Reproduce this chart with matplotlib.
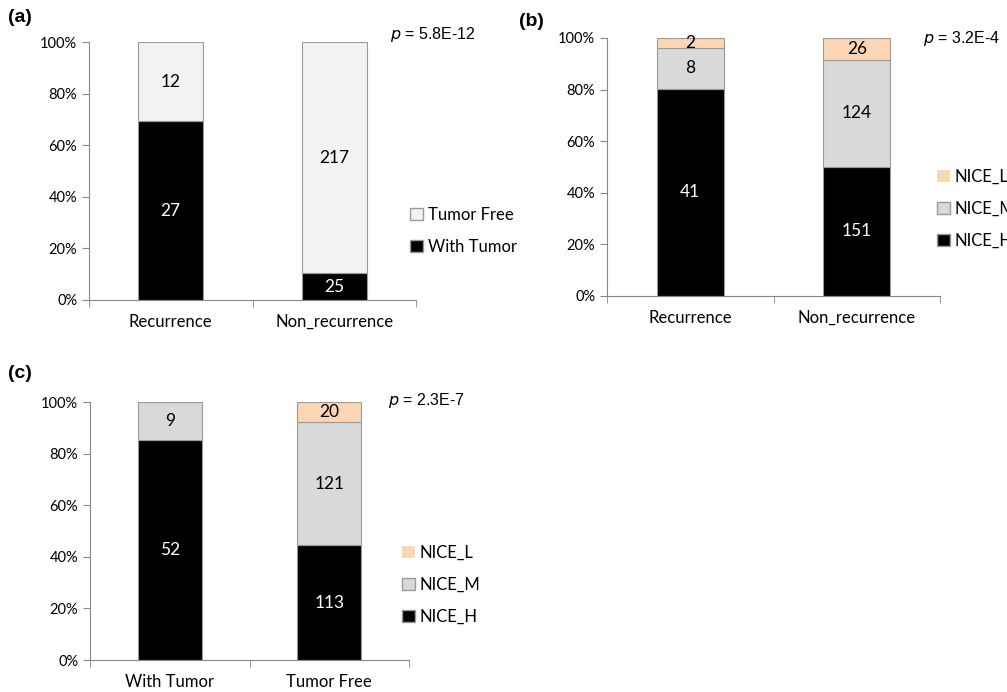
import numpy as np
import matplotlib.pyplot as plt
from matplotlib.patches import Patch
from matplotlib.ticker import PercentFormatter

plt.rcParams["font.family"] = ["Lato", "DejaVu Sans"]

# (a) recurrence vs tumor status
cats_a = ["Recurrence", "Non_recurrence"]
with_tumor = [27, 25]
tumor_free = [12, 217]

# (b) recurrence vs NICE group
cats_b = ["Recurrence", "Non_recurrence"]
nice_h_b = [41, 151]
nice_m_b = [8, 124]
nice_l_b = [2, 26]

# (c) tumor status vs NICE group
cats_c = ["With Tumor", "Tumor Free"]
nice_h_c = [52, 113]
nice_m_c = [9, 121]
nice_l_c = [0, 20]

p_texts = ["5.8E-12", "3.2E-4", "2.3E-7"]

BLACK = "#000000"
FREE = "#f2f2f2"
MID = "#d9d9d9"
LOW = "#fcd5b5"
EDGE = "#9a9a9a"

fig = plt.figure(figsize=(10.07, 6.92), dpi=100)


def stacked(ax, cats, series, colors, txtcolors):
    x = np.arange(len(cats))
    totals = np.sum(series, axis=0)
    bottom = np.zeros(len(cats))
    for vals, col, tc in zip(series, colors, txtcolors):
        vals = np.array(vals, dtype=float)
        frac = vals / totals
        ax.bar(x, frac, 0.4, bottom=bottom, color=col, edgecolor=EDGE, linewidth=0.8)
        for xi, v, f, b in zip(x, vals, frac, bottom):
            if v > 0:
                ax.text(xi, b + f / 2, f"{int(v)}", ha="center", va="center",
                        color=tc, fontsize=12.5)
        bottom += frac
    ax.set_xlim(-0.5, len(cats) - 0.5)
    ax.set_ylim(0, 1)
    ax.set_yticks(np.arange(0, 1.01, 0.2))
    ax.yaxis.set_major_formatter(PercentFormatter(1.0, decimals=0))
    ax.set_xticks(x)
    ax.set_xticklabels(cats, fontsize=12)
    ax.set_xticks(np.arange(-0.5, len(cats), 1.0), minor=True)
    ax.tick_params(axis="x", which="major", length=0, pad=10)
    ax.tick_params(axis="x", which="minor", length=5, color="#888888")
    ax.tick_params(axis="y", length=5, color="#888888", labelsize=10.5)
    for s in ["top", "right"]:
        ax.spines[s].set_visible(False)
    for s in ["left", "bottom"]:
        ax.spines[s].set_color("#888888")


ax_a = fig.add_axes([0.0884, 0.5665, 0.3247, 0.3728])
stacked(ax_a, cats_a, [with_tumor, tumor_free], [BLACK, FREE], ["white", "black"])

ax_b = fig.add_axes([0.6028, 0.5723, 0.3307, 0.3728])
stacked(ax_b, cats_b, [nice_h_b, nice_m_b, nice_l_b], [BLACK, MID, LOW],
        ["white", "black", "black"])

ax_c = fig.add_axes([0.0894, 0.0462, 0.3168, 0.3728])
stacked(ax_c, cats_c, [nice_h_c, nice_m_c, nice_l_c], [BLACK, MID, LOW],
        ["white", "black", "black"])

# panel letters
for lbl, (px, py) in zip(["(a)", "(b)", "(c)"], [(8, 18), (519, 22), (8, 374)]):
    fig.text(px / 1007, 1 - py / 692, lbl, fontsize=14, fontweight="bold",
             family=["Liberation Sans", "DejaVu Sans"], va="center")

# p values
for ptxt, (px, py) in zip(p_texts, [(390, 35), (923, 38), (388, 400)]):
    fig.text(px / 1007, 1 - py / 692, r"$\it{p}$ = " + ptxt, fontsize=11.5,
             family=["Liberation Sans", "DejaVu Sans"], va="center")

# legends
leg_kw = dict(frameon=False, fontsize=12, handlelength=0.75, handleheight=0.75,
              handletextpad=0.3, labelspacing=0.95, loc="upper left",
              bbox_transform=fig.transFigure, borderaxespad=0, borderpad=0)
h_a = [Patch(facecolor=FREE, edgecolor=EDGE, label="Tumor Free"),
       Patch(facecolor=BLACK, edgecolor=EDGE, label="With Tumor")]
fig.legend(handles=h_a, bbox_to_anchor=(410 / 1007, 1 - 207 / 692), **leg_kw)

h_n = [Patch(facecolor=LOW, edgecolor="none", label="NICE_L"),
       Patch(facecolor=MID, edgecolor=EDGE, label="NICE_M"),
       Patch(facecolor=BLACK, edgecolor=EDGE, label="NICE_H")]
fig.legend(handles=h_n, bbox_to_anchor=(937 / 1007, 1 - 169 / 692), **leg_kw)
fig.legend(handles=h_n, bbox_to_anchor=(402 / 1007, 1 - 545 / 692), **leg_kw)

fig.savefig("out.png", dpi=100)
